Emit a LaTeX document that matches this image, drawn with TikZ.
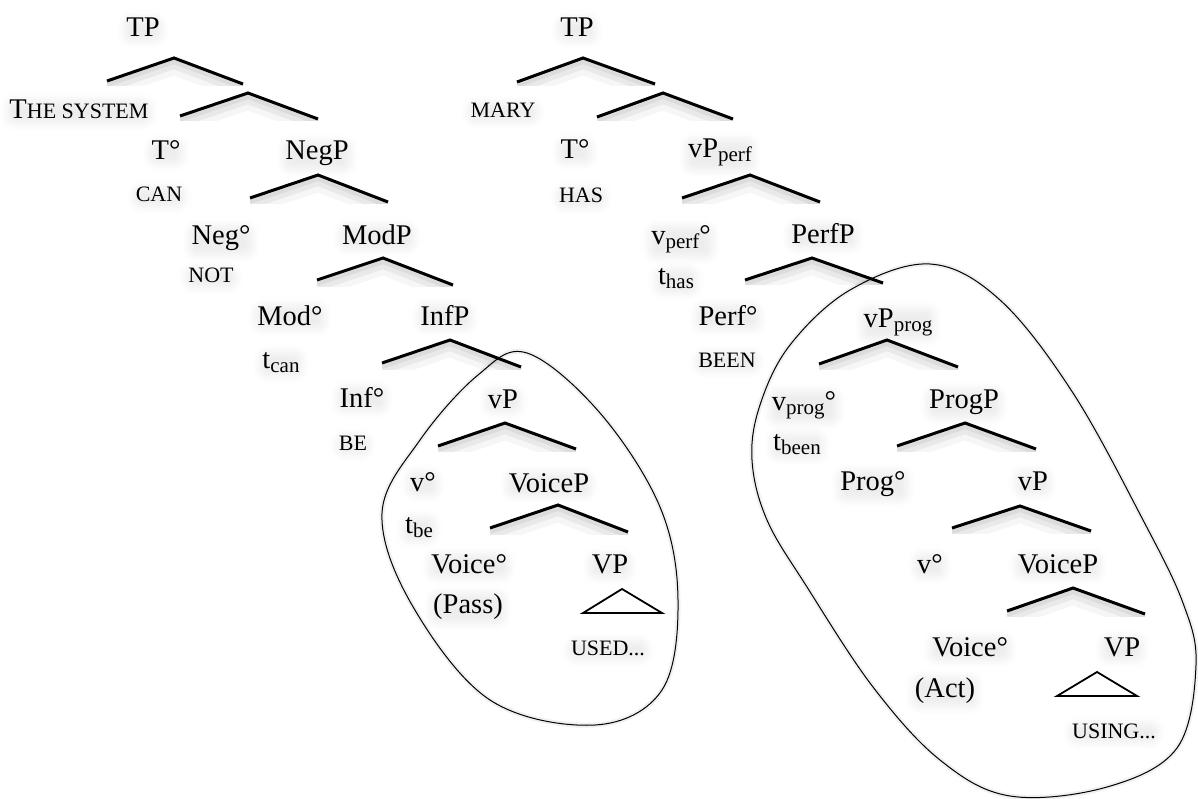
\documentclass[tikz,border=0pt]{standalone}
\usepackage{fontspec}
\setmainfont{Liberation Serif}
\usetikzlibrary{calc,shadows.blur}
\newcommand{\sbs}[1]{\raisebox{-4pt}{\fontsize{21}{21}\selectfont #1}}
\newcommand{\brnch}[4]{%
  \coordinate (#1-l) at (#2); \coordinate (#1-a) at (#3); \coordinate (#1-r) at (#4);
  \begin{scope}
    \clip (#1-l |- #1-a) rectangle ($(#1-r)+(0,2)$);
    \draw[brshA] ($(#1-l)+(0,3)$) -- ($(#1-a)+(0,3)$) -- ($(#1-r)+(0,3)$);
    \draw[brshB] ($(#1-l)+(0,6)$) -- ($(#1-a)+(0,6)$) -- ($(#1-r)+(0,6)$);
    \draw[brshC] ($(#1-l)+(0,9)$) -- ($(#1-a)+(0,9)$) -- ($(#1-r)+(0,9)$);
  \end{scope}
  \draw[branch] (#1-l) -- (#1-a) -- (#1-r);
}
\newcommand{\trngl}[4]{%
  \coordinate (#1-l) at (#2); \coordinate (#1-a) at (#3); \coordinate (#1-r) at (#4);
  \draw[tri] (#1-a) -- (#1-l) -- (#1-r) -- cycle;
}
\begin{document}
\begin{tikzpicture}[x=1pt,y=-1pt,
  lab/.style={font=\fontsize{28.5}{30}\selectfont, anchor=base, inner sep=2pt, outer sep=0pt,
    rounded corners=8pt,
    blur shadow={shadow xshift=0pt, shadow yshift=-2pt, shadow blur radius=8pt, shadow opacity=7}},
  sc/.style={lab, font=\fontsize{22}{23}\selectfont},
  branch/.style={line width=3pt, line cap=butt, line join=miter, black},
  brshA/.style={line width=6pt, black, opacity=0.06},
  brshB/.style={line width=10pt, black, opacity=0.05},
  brshC/.style={line width=16pt, black, opacity=0.035},
  tri/.style={line width=1.8pt, black, line join=miter},
  loopline/.style={line width=1pt, black},
  loopsh/.style={line width=5pt, black, opacity=0.06}
]
\useasboundingbox (0,0) rectangle (1198,799);

% ---------------- left tree ----------------
\brnch{lb1}{107,81}{174,58}{243,84}
\brnch{lb2}{180,116}{248,93}{318,119}
\brnch{lb3}{250,198}{318,175}{388,202}
\brnch{lb4}{317,280}{383,258}{453,285}
\brnch{lb5}{382,363}{450,340}{521,367}
\brnch{lb6}{438,446}{505,423}{576,449}
\brnch{lb7}{490,528}{558,505}{628,532}
\trngl{lt}{583,613}{622,589}{662,613}

\node[lab] (lTP) at (143,37) {TP};
\node[lab] (lsys) at (79,119) {T\fontsize{22}{23}\selectfont HE SYSTEM};
\node[lab] (lT) at (166,160) {T°};
\node[sc] (lcan) at (159,202) {CAN};
\node[lab] (lNegP) at (317,160) {NegP};
\node[lab] (lNeg) at (221,245) {Neg°};
\node[sc] (lnot) at (211,283) {NOT};
\node[lab] (lModP) at (377,245) {ModP};
\node[lab] (lMod) at (290,325) {Mod°};
\node[lab] (ltcan) at (281,368) {t\sbs{can}};
\node[lab] (lInfP) at (445,325) {InfP};
\node[lab] (lInf) at (362,407) {Inf°};
\node[sc] (lbe) at (353,450) {BE};
\node[lab] (lvP) at (503,408) {vP};
\node[lab] (lv) at (423,491) {v°};
\node[lab] (ltbe) at (419,533) {t\sbs{be}};
\node[lab] (lVoiceP) at (549,492) {VoiceP};
\node[lab] (lVoice) at (469,573) {Voice°};
\node[lab] (lPass) at (468,613) {(Pass)};
\node[lab] (lVP) at (610,573) {VP};
\node[sc] (lused) at (608,655) {USED...};

% ---------------- right tree ----------------
\brnch{rb1}{517,82}{583,58}{655,84}
\brnch{rb2}{597,117}{663,93}{733,119}
\brnch{rb3}{682,198}{750,175}{820,202}
\brnch{rb4}{745,280}{812,258}{883,283}
\brnch{rb5}{819,364}{887,340}{958,367}
\brnch{rb6}{897,446}{965,423}{1036,449}
\brnch{rb7}{952,528}{1020,506}{1091,531}
\brnch{rb8}{1007,611}{1073,588}{1145,614}
\trngl{rt}{1057,696}{1097,672}{1137,696}

\node[lab] (rTP) at (577,37) {TP};
\node[sc] (rmary) at (503,118) {MARY};
\node[lab] (rT) at (575,159) {T°};
\node[sc] (rhas) at (581,203) {HAS};
\node[lab] (rvPperf) at (720,158) {vP\sbs{perf}};
\node[lab] (rvperf) at (681,245) {v\sbs{perf}°};
\node[lab] (rthas) at (676,285) {t\sbs{has}};
\node[lab] (rPerfP) at (823,244) {PerfP};
\node[lab] (rPerf) at (728,325) {Perf°};
\node[sc] (rbeen) at (727,367) {BEEN};
\node[lab] (rvPprog) at (898,327) {vP\sbs{prog}};
\node[lab] (rvprog) at (804,410) {v\sbs{prog}°};
\node[lab] (rtbeen) at (797,450) {t\sbs{been}};
\node[lab] (rProgP) at (964,408) {ProgP};
\node[lab] (rProg) at (873,490) {Prog°};
\node[lab] (rvP) at (1033,490) {vP};
\node[lab] (rv) at (930,573) {v°};
\node[lab] (rVoiceP) at (1058,573) {VoiceP};
\node[lab] (rVoice) at (970,656) {Voice°};
\node[lab] (rAct) at (945,697) {(Act)};
\node[lab] (rVP) at (1122,656) {VP};
\node[sc] (rusing) at (1114,738) {USING...};

% ---------------- loops ----------------
\def\leftloop{(527,353) (600,413) (660,507) (678,600) (662,690) (595,725) (490,700) (412,605) (382,513) (420,440) (478,375)}
\def\rightloop{(930,264) (1000,300) (1073,393) (1143,520) (1183,603) (1196,665) (1177,748) (1107,787) (1010,796) (940,760) (873,687) (807,587) (767,520) (752,460) (760,405) (790,345) (850,290)}
\draw[loopsh] plot[smooth cycle, tension=0.6] coordinates {\leftloop};
\draw[loopline] plot[smooth cycle, tension=0.6] coordinates {\leftloop};
\draw[loopsh] plot[smooth cycle, tension=0.6] coordinates {\rightloop};
\draw[loopline] plot[smooth cycle, tension=0.6] coordinates {\rightloop};
\end{tikzpicture}
\end{document}
